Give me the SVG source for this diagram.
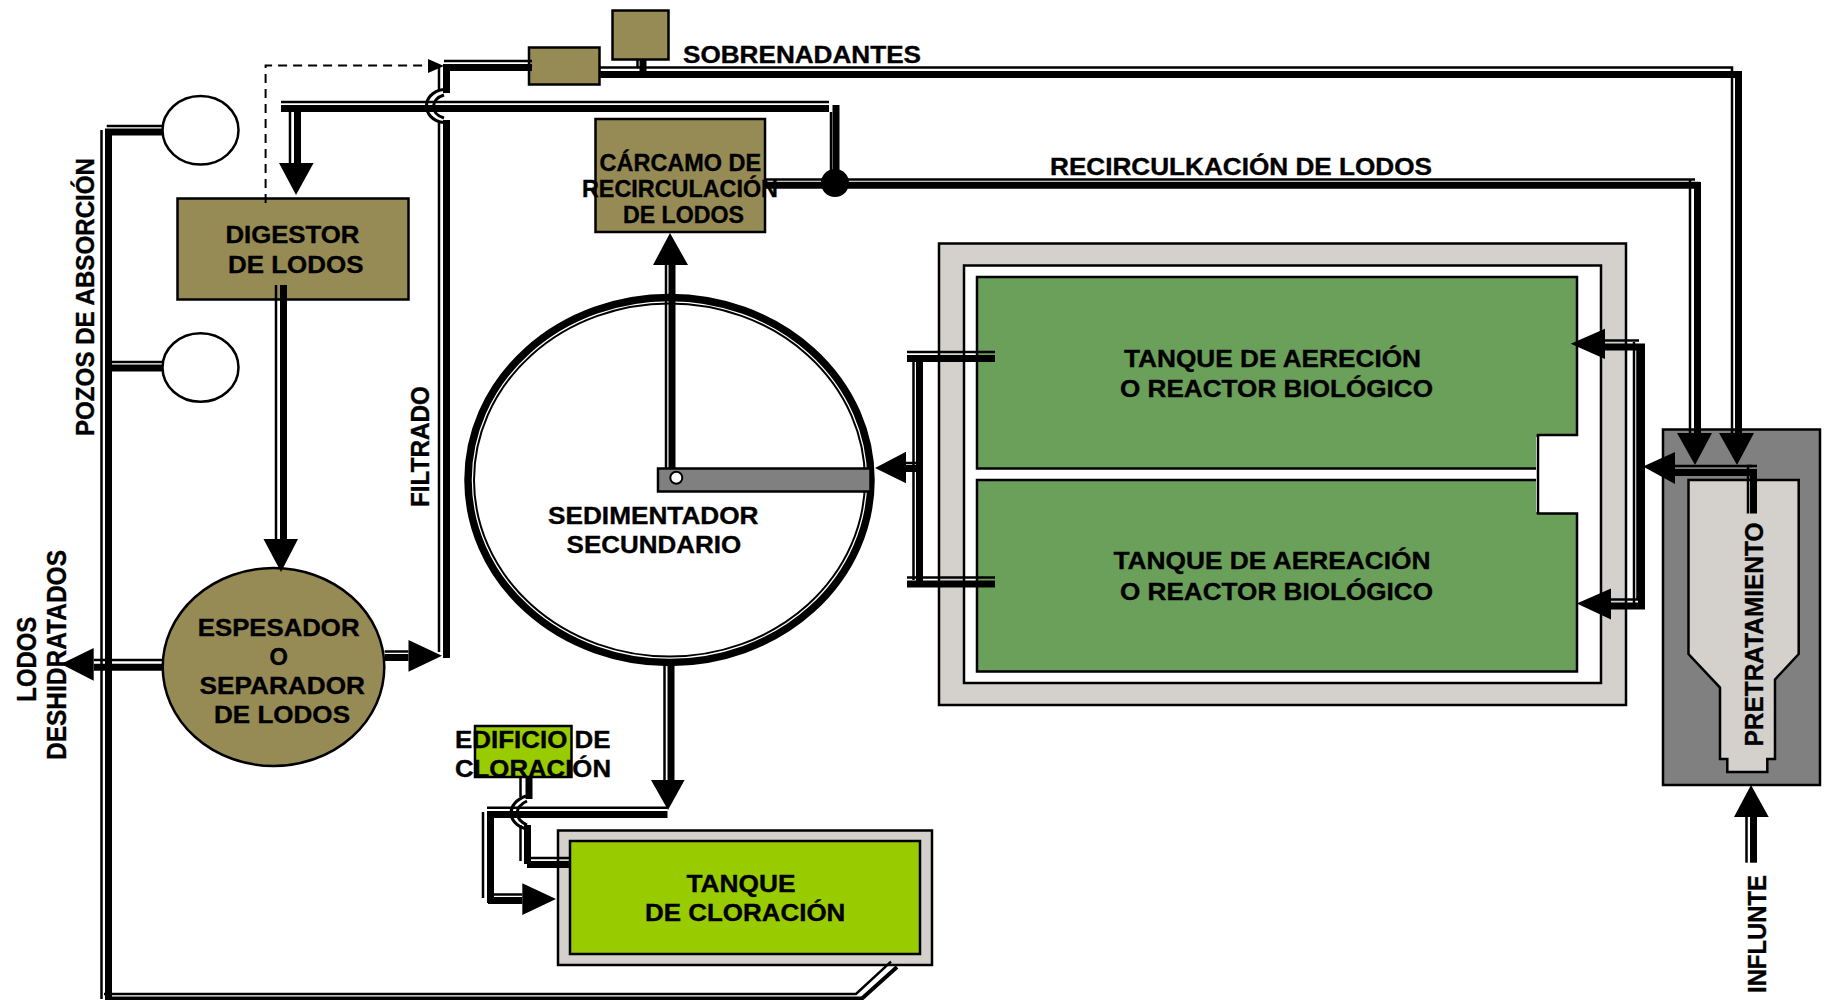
<svg xmlns="http://www.w3.org/2000/svg" width="1828" height="1000" viewBox="0 0 1828 1000">
<style>
text{font-family:"Liberation Sans",Arial,sans-serif;font-weight:700;fill:#000;font-size:23px;stroke:#000;stroke-width:.35px}
.olive{fill:#968b55;stroke:#000;stroke-width:2.5}
.frame{fill:#d4d0cc;stroke:#000;stroke-width:2.5}
.white{fill:#fff;stroke:#000;stroke-width:2.5}
.green{fill:#6ba05b;stroke:#000;stroke-width:2.5}
.lime{fill:#99cc00;stroke:#000;stroke-width:2.5}
.grey{fill:#808080;stroke:#000;stroke-width:2.5}
.pale{fill:#d4d0cc;stroke:#000;stroke-width:2.5}
.t{fill:none;stroke:#000;stroke-width:2.5}
.k{fill:none;stroke:#000;stroke-width:7}
.a{fill:#000;stroke:none}
.d{fill:none;stroke:#000;stroke-width:2;stroke-dasharray:9 6}
.arc{fill:none;stroke:#000;stroke-width:3}
</style>
<g id="node-sobrenadantes-box"><rect class="olive" x="612.500" y="10.500" width="56" height="49"/></g>
<g id="node-filtro-box"><rect class="olive" x="529" y="47.500" width="70.500" height="37"/></g>
<g id="node-pozo-1"><ellipse class="white" cx="200.500" cy="130.300" rx="38" ry="34.300"/></g>
<g id="node-pozo-2"><ellipse class="white" cx="200.500" cy="367.500" rx="38" ry="34.300"/></g>
<g id="node-digestor"><rect class="olive" x="177.500" y="198.500" width="231" height="101"/>
<text x="225.400" y="243" textLength="134" lengthAdjust="spacingAndGlyphs">DIGESTOR</text>
<text x="228" y="273" textLength="135.500" lengthAdjust="spacingAndGlyphs">DE LODOS</text></g>
<g id="node-carcamo"><rect class="olive" x="595.500" y="119" width="169.500" height="113"/>
<text x="599.600" y="171" textLength="161.500" lengthAdjust="spacingAndGlyphs">CÁRCAMO DE</text>
<text x="582" y="197" textLength="196" lengthAdjust="spacingAndGlyphs">RECIRCULACIÓN</text>
<text x="623" y="222.700" textLength="121" lengthAdjust="spacingAndGlyphs">DE LODOS</text></g>
<g id="node-espesador"><ellipse class="olive" cx="273.500" cy="667" rx="110.800" ry="99"/>
<text x="197.800" y="636" textLength="161.700" lengthAdjust="spacingAndGlyphs">ESPESADOR</text>
<text x="269.400" y="665" textLength="18.400" lengthAdjust="spacingAndGlyphs">O</text>
<text x="199.600" y="694" textLength="165.400" lengthAdjust="spacingAndGlyphs">SEPARADOR</text>
<text x="214" y="723" textLength="136" lengthAdjust="spacingAndGlyphs">DE LODOS</text></g>
<g id="node-sedimentador"><ellipse cx="669.500" cy="480" rx="201.500" ry="182.500" fill="#fff" stroke="#000" stroke-width="7.500"/>
<ellipse cx="669.500" cy="480" rx="195.500" ry="176.500" fill="none" stroke="#000" stroke-width="2"/>
<rect class="grey" x="658" y="468.500" width="212.500" height="23"/>
<circle cx="676.300" cy="477.700" r="6" fill="#fff" stroke="#000" stroke-width="2"/>
<text x="548" y="524" textLength="210.500" lengthAdjust="spacingAndGlyphs">SEDIMENTADOR</text>
<text x="566.600" y="552.700" textLength="174.500" lengthAdjust="spacingAndGlyphs">SECUNDARIO</text></g>
<g id="node-reactores"><rect class="frame" x="939" y="243.500" width="687" height="461.500"/>
<rect class="white" x="964" y="265.500" width="637" height="417.500"/>
<path class="green" d="M977 277H1577V435H1538V468.500H977Z"/>
<path class="green" d="M977 480H1538V513.500H1577V671.500H977Z"/>
<rect x="1536" y="437" width="4" height="75" fill="#fff" stroke="none"/>
<path fill="none" stroke="#000" stroke-width="2.500" d="M1538 435V513.500"/>
<text x="1124" y="367" textLength="297" lengthAdjust="spacingAndGlyphs">TANQUE DE AERECIÓN</text>
<text x="1120" y="396.500" textLength="313" lengthAdjust="spacingAndGlyphs">O REACTOR BIOLÓGICO</text>
<text x="1113.500" y="569" textLength="317" lengthAdjust="spacingAndGlyphs">TANQUE DE AEREACIÓN</text>
<text x="1120" y="600" textLength="313" lengthAdjust="spacingAndGlyphs">O REACTOR BIOLÓGICO</text></g>
<g id="node-pretratamiento"><rect class="grey" x="1663" y="429.500" width="157" height="355.500"/>
<path class="pale" d="M1688.500 480H1798.700V654L1775 679.500V759H1767.300V772H1727.300V759H1720V687.600L1688.500 654Z"/>
<text transform="translate(1762.700,746.500) rotate(-90)" style="font-size:25px" textLength="224" lengthAdjust="spacingAndGlyphs">PRETRATAMIENTO</text></g>
<g id="node-edificio-cloracion"><rect class="lime" x="475" y="726" width="96.500" height="51"/>
<text x="455" y="748" textLength="155.500" lengthAdjust="spacingAndGlyphs">EDIFICIO DE</text>
<text x="455" y="777" textLength="156" lengthAdjust="spacingAndGlyphs">CLORACIÓN</text></g>
<g id="node-tanque-cloracion"><rect class="frame" x="558" y="830.500" width="374" height="134.500"/>
<rect class="lime" x="570" y="841" width="350" height="113"/>
<text x="686.500" y="892" textLength="109" lengthAdjust="spacingAndGlyphs">TANQUE</text>
<text x="645" y="920.700" textLength="200.300" lengthAdjust="spacingAndGlyphs">DE CLORACIÓN</text></g>
<g id="connectors">
<path class="d" d="M265.600 203V65.500H430"/>
<polygon class="a" points="428,59 444,66 428,73"/>
<!-- sobrenadantes -->
<path class="t" d="M444 61H532"/><path class="k" d="M446.500 93V67.500H532"/>
<path class="t" d="M600 67.500H1732V434"/><path class="k" d="M600 74.500H1738.500V434"/>
<path class="t" d="M637.500 60V68"/><path class="k" d="M643 60V71"/>
<polygon class="a" points="1719,433 1754,433 1737,465"/>
<path class="t" d="M439 66V90"/>
<!-- filtrado -->
<path class="t" d="M439 121V652"/><path class="k" d="M446.500 120V658"/>
<!-- recirculacion -->
<path class="t" d="M281 102H829"/><path class="k" d="M281 108.500H829"/>
<path class="t" d="M831 112V175"/><path class="k" d="M836 105V183"/>
<path class="t" d="M290 112V163"/><path class="k" d="M297.500 112V163"/>
<polygon class="a" points="279,163 313.600,163 296,195"/>
<path class="t" d="M766 179.500H1695"/><path class="k" d="M766 185.200H1700"/>
<circle cx="835" cy="183" r="14" fill="#000"/>
<path class="t" d="M1690 180V433"/><path class="k" d="M1697.500 182V433"/>
<polygon class="a" points="1677,433 1712,433 1695,465"/>
<path class="arc" d="M443 89.500C421 93 421 119 443 122.500"/><path class="arc" d="M444 95C430 99 430 114 444 118"/>
<!-- digestor a espesador -->
<path class="t" d="M276 285V540"/><path class="k" d="M283.500 285V540"/>
<polygon class="a" points="263.500,539 298,539 281,572"/>
<!-- sedimentador a carcamo -->
<path class="t" d="M666 265V468"/><path class="k" d="M672 265V468"/>
<polygon class="a" points="653,265 688,265 670,233"/>
<!-- reactores a sedimentador -->
<path class="t" d="M907 352H995"/><path class="k" d="M907 358.400H995"/>
<path class="t" d="M913.500 362V580"/><path class="k" d="M919.500 358V584"/>
<path class="t" d="M907 577.500H995"/><path class="k" d="M907 584H995"/>
<path class="t" d="M905 463H917"/><path class="k" d="M905 468.500H917"/>
<polygon class="a" points="875,468 906,451.700 906,483.300"/>
<!-- pretratamiento a reactores -->
<path class="t" d="M1748 513.500V466H1757"/><path class="t" d="M1675 466H1752"/><path class="k" d="M1675 472.500H1753.500V513.500"/>
<polygon class="a" points="1643,466.400 1675,452 1675,484"/>
<path class="t" d="M1634 342V606"/><path class="t" d="M1637.500 345V600"/><path class="k" d="M1641.500 345V609"/>
<path class="t" d="M1605 340.500H1639"/><path class="k" d="M1605 347H1645"/>
<polygon class="a" points="1570.700,343.700 1605,328.700 1605,359"/>
<path class="t" d="M1611 599.500H1638"/><path class="k" d="M1611 606H1645"/>
<polygon class="a" points="1576.700,603.500 1611,588.500 1611,619.600"/>
<!-- influente -->
<path class="t" d="M1746.500 817V862.700"/><path class="k" d="M1753.500 817V862.700"/>
<polygon class="a" points="1751,785 1768.700,817 1734,817"/>
<!-- espesador -->
<path class="t" d="M384.600 651.500H408.500"/><path class="k" d="M384.600 657.500H408.500"/>
<polygon class="a" points="408.500,640 442,655.700 408.500,671.700"/>
<path class="t" d="M93.700 660H163"/><path class="k" d="M93.700 667.200H163"/>
<polygon class="a" points="61,664 93.700,648 93.700,680.700"/>
<!-- lodos deshidratados -->
<path class="t" d="M101.500 130V999"/><path class="k" d="M108.500 130V997"/>
<path class="t" d="M106.700 126H162.400"/><path class="k" d="M105 132H162.400"/>
<path class="t" d="M106.700 362H162.400"/><path class="k" d="M105 368H162.400"/>
<path class="t" d="M104 994H856L891 961.700"/><path fill="none" stroke="#000" stroke-width="4" d="M105 998.500H862L897 967"/>
<!-- cloracion -->
<path class="t" d="M664.500 666V780"/><path class="k" d="M671 666V780"/>
<polygon class="a" points="651,780 684.600,780 668,810"/>
<path class="t" d="M487 807.700H667"/><path class="k" d="M487 814.500H667.500"/>
<path class="t" d="M483 812V898"/><path class="k" d="M490.500 811V903"/>
<path class="t" d="M488 894.500H522.300"/><path class="k" d="M488 900.500H522.300"/>
<polygon class="a" points="522.300,883.300 556,899 522.300,915"/>
<path class="t" d="M520.500 777V797"/><path class="k" d="M529 777V799"/>
<path class="arc" d="M526 796C506 803 506 823 526 829"/><path class="arc" d="M527 801C514 807 514 819 527 825"/>
<path class="t" d="M520.500 825V861"/><path class="k" d="M527.500 825V864"/>
<path class="t" d="M530 858H570"/><path class="k" d="M527 864.500H570"/>
</g>
<g id="labels">
<text x="683" y="63" textLength="238" lengthAdjust="spacingAndGlyphs">SOBRENADANTES</text>
<text x="1050" y="175" textLength="382" lengthAdjust="spacingAndGlyphs">RECIRCULKACIÓN DE LODOS</text>
<text transform="translate(94,436) rotate(-90)" style="font-size:25px" textLength="278" lengthAdjust="spacingAndGlyphs">POZOS DE ABSORCIÓN</text>
<text transform="translate(429,507) rotate(-90)" style="font-size:26px" textLength="121" lengthAdjust="spacingAndGlyphs">FILTRADO</text>
<text transform="translate(35.500,701.700) rotate(-90)" style="font-size:28px" textLength="85" lengthAdjust="spacingAndGlyphs">LODOS</text>
<text transform="translate(66,760) rotate(-90)" style="font-size:28px" textLength="210" lengthAdjust="spacingAndGlyphs">DESHIDRATADOS</text>
<text transform="translate(1766,993) rotate(-90)" style="font-size:25px" textLength="118" lengthAdjust="spacingAndGlyphs">INFLUNTE</text>
</g>
</svg>
